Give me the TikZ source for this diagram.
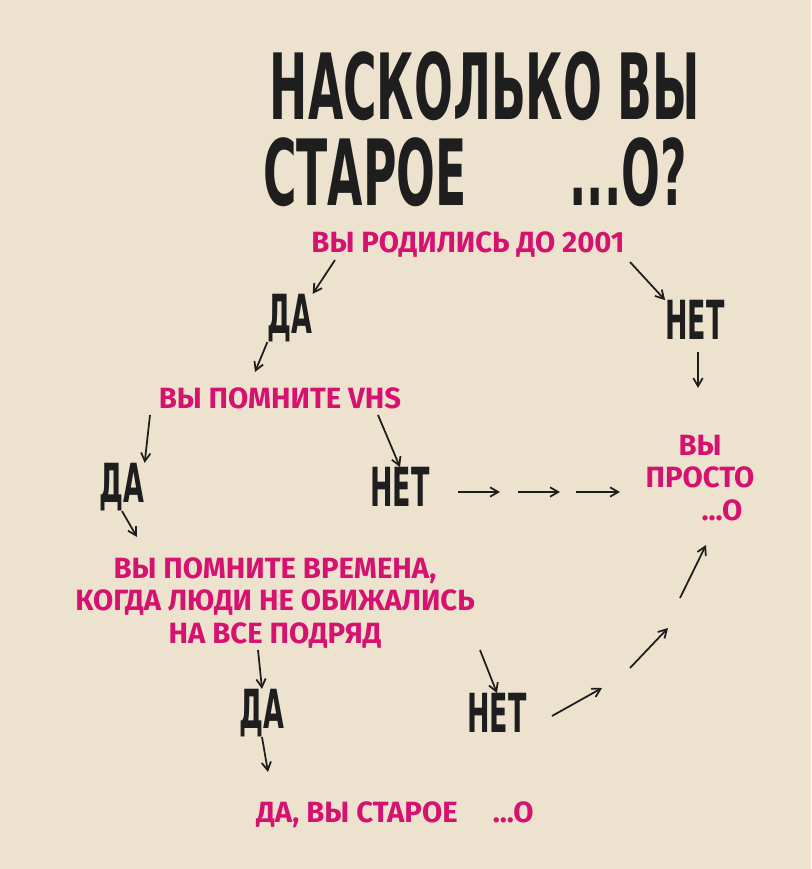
\documentclass[tikz,border=0pt]{standalone}
\usepackage{fontspec}
\usetikzlibrary{arrows.meta}
\newfontfamily\titlefont[FakeStretch=0.5]{DejaVu Sans}
\newfontfamily\handfont{Fira Sans}
\definecolor{paper}{RGB}{236,226,206}
\definecolor{pink}{RGB}{214,18,112}
\definecolor{ink}{RGB}{30,30,30}
\tikzset{
  big/.style={text=ink,font=\titlefont\bfseries\fontsize{78}{78}\selectfont,inner sep=0pt},
  ans/.style={text=ink,font=\titlefont\bfseries\fontsize{46}{46}\selectfont,inner sep=0pt},
  q/.style={text=pink,font=\handfont\bfseries\fontsize{25}{28}\selectfont,inner sep=0pt,align=center},
  go/.style={ink,line width=1.5pt,-{Straight Barb[length=7pt,width=8pt]}}
}
\begin{document}
\begin{tikzpicture}[x=0.03cm,y=-0.03cm]
            \fill[paper] (0,0) rectangle (811,869);
            \useasboundingbox (0,0) rectangle (811,869);
            % title
            \node[big] (t1) at (485,86) {НАСКОЛЬКО ВЫ};
            \node[big] (t2) at (365,172) {СТАРОЕ};
            \node[big] (t3) at (628,172) {...О?};
            % questions
            \node[q] (born) at (468,245) {ВЫ РОДИЛИСЬ ДО 2001};
            \node[ans] (yes1) at (290,318) {ДА};
            \node[ans] (no1) at (695,320) {НЕТ};
            \node[q] (vhs) at (280,398) {ВЫ ПОМНИТЕ VHS};
            \node[ans] (yes2) at (122,487) {ДА};
            \node[ans] (no2) at (400,487) {НЕТ};
            \node[q] (just) at (700,478) {ВЫ\\ПРОСТО\\\hspace*{1.5em}...О};
            \node[q] (times) at (275,603) {ВЫ ПОМНИТЕ ВРЕМЕНА,\\КОГДА ЛЮДИ НЕ ОБИЖАЛИСЬ\\НА ВСЕ ПОДРЯД};
            \node[ans] (yes3) at (262,713) {ДА};
            \node[ans] (no3) at (497,713) {НЕТ};
            \node[q] (old) at (395,815) {ДА, ВЫ СТАРОЕ\hspace{1.2em}...О};
            % arrows
            \coordinate (d1) at (458,492); \coordinate (d2) at (500,492);
            \coordinate (d3) at (518,492); \coordinate (d4) at (560,492);
            \coordinate (d5) at (576,492); \coordinate (d6) at (620,492);
            \coordinate (r1) at (552,716); \coordinate (r2) at (602,688);
            \coordinate (r3) at (630,668); \coordinate (r4) at (668,628);
            \coordinate (r5) at (680,598); \coordinate (r6) at (706,545);
            \draw[go] (335,260) -- (yes1.north east);
            \draw[go] (630,262) -- (no1.north west);
            \draw[go] (yes1.south west) -- (255,372);
            \draw[go] (no1.south) ++(3,12) -- (698,388);
            \draw[go] (150,415) -- (yes2.north east);
            \draw[go] (378,415) -- (no2.north);
            \draw[go] (d1) -- (d2);
            \draw[go] (d3) -- (d4);
            \draw[go] (d5) -- (d6);
            \draw[go] (yes2.south) -- (137,537);
            \draw[go] (258,650) -- (yes3.north);
            \draw[go] (480,650) -- (no3.north);
            \draw[go] (yes3.south) -- (268,772);
            \draw[go] (r1) -- (r2);
            \draw[go] (r3) -- (r4);
            \draw[go] (r5) -- (r6);
\end{tikzpicture}
\end{document}
